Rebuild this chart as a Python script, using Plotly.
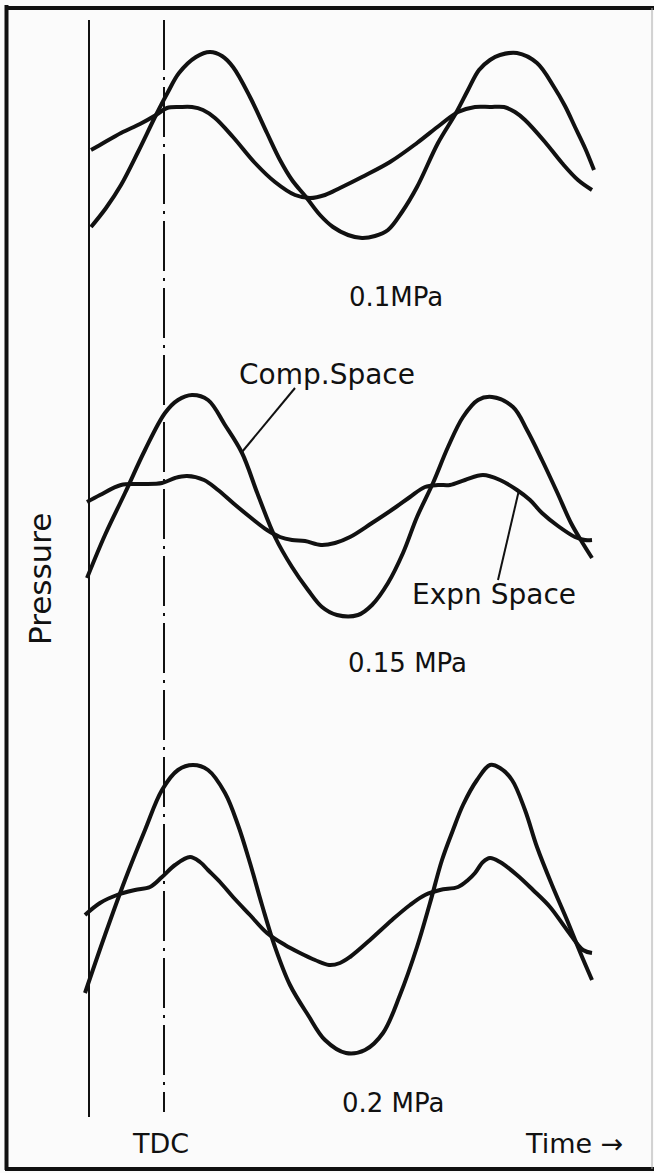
import plotly.graph_objects as go

# ---- data (time units / pressure units, y grows downward) ----
# Panel 0.1 MPa
t_comp_01 = [91, 106, 121, 138, 156, 168, 179, 196, 210, 222, 233, 250, 267, 280, 292, 306, 320, 333, 348, 362, 375, 388, 402, 417, 438, 456, 468, 479, 490, 500, 517, 537, 554, 565, 575, 585, 594]
p_comp_01 = [227, 208, 185, 152, 115, 92, 73, 57, 52, 56, 67, 97, 133, 160, 180, 197, 215, 227, 235, 238, 236, 230, 212, 187, 143, 113, 90, 70, 60, 55, 53, 63, 87, 106, 127, 148, 170]
t_expn_01 = [91, 100, 121, 140, 156, 167, 180, 192, 203, 215, 233, 255, 275, 295, 310, 325, 340, 362, 390, 417, 440, 458, 475, 490, 504, 515, 525, 545, 562, 578, 592]
p_expn_01 = [150, 145, 133, 124, 115, 108, 107, 107, 110, 118, 137, 163, 182, 195, 198, 195, 188, 177, 162, 143, 125, 112, 107, 107, 107, 112, 120, 142, 163, 180, 190]

# Panel 0.15 MPa
t_comp_015 = [87, 105, 125, 145, 165, 178, 192, 208, 225, 242, 258, 275, 292, 308, 322, 337, 358, 372, 388, 403, 417, 433, 448, 463, 478, 492, 513, 527, 542, 557, 571, 582, 592]
p_comp_015 = [578, 535, 493, 450, 413, 400, 395, 400, 425, 453, 495, 537, 567, 590, 607, 615, 615, 605, 583, 553, 517, 483, 447, 417, 400, 397, 407, 430, 460, 492, 523, 542, 558]
t_expn_015 = [87, 100, 121, 140, 162, 175, 187, 204, 218, 233, 250, 267, 280, 292, 305, 321, 335, 350, 372, 396, 410, 425, 438, 450, 465, 483, 500, 517, 530, 542, 558, 575, 585, 592]
p_expn_015 = [502, 495, 485, 484, 483, 478, 476, 480, 490, 503, 517, 530, 537, 540, 541, 545, 543, 537, 523, 507, 497, 487, 485, 485, 480, 475, 480, 490, 500, 513, 526, 537, 540, 540]

# Panel 0.2 MPa
t_comp_02 = [85, 105, 125, 145, 162, 178, 193, 208, 225, 238, 250, 262, 275, 290, 308, 325, 346, 365, 383, 400, 417, 430, 442, 453, 463, 477, 490, 500, 512, 525, 537, 552, 567, 580, 592]
p_comp_02 = [993, 935, 880, 830, 790, 770, 765, 770, 793, 825, 863, 905, 947, 985, 1015, 1040, 1053, 1050, 1033, 995, 947, 903, 860, 830, 805, 780, 765, 768, 780, 810, 847, 885, 920, 952, 980]
t_expn_02 = [85, 100, 117, 135, 150, 162, 175, 190, 200, 208, 220, 233, 250, 267, 285, 300, 315, 329, 340, 350, 370, 392, 410, 425, 440, 458, 468, 475, 483, 490, 500, 517, 533, 550, 567, 583, 592]
p_expn_02 = [915, 903, 895, 890, 887, 877, 865, 857, 862, 870, 882, 897, 915, 933, 945, 953, 960, 965, 963, 957, 940, 920, 905, 895, 890, 887, 880, 873, 862, 858, 862, 875, 890, 907, 930, 950, 953]

# reference lines
t_start = 89
t_tdc = 164
line_span = [20, 1117]
tdc_span = [20, 1112]

# labels
pressure_labels = ["0.1MPa", "0.15 MPa", "0.2 MPa"]
pressure_label_pos = [(396, 297), (407, 663), (393, 1103)]

W, H = 654, 1173
FONT = "DejaVu Sans"
INK = "#111111"

fig = go.Figure()

curves = [
    (t_comp_01, p_comp_01), (t_expn_01, p_expn_01),
    (t_comp_015, p_comp_015), (t_expn_015, p_expn_015),
    (t_comp_02, p_comp_02), (t_expn_02, p_expn_02),
]
for tx, py in curves:
    fig.add_trace(go.Scatter(x=tx, y=py, mode="lines",
                             line=dict(color=INK, width=4, shape="spline", smoothing=1.0),
                             hoverinfo="skip", showlegend=False))

# start line and TDC line
fig.add_trace(go.Scatter(x=[t_start, t_start], y=line_span, mode="lines",
                         line=dict(color=INK, width=2), showlegend=False, hoverinfo="skip"))
fig.add_trace(go.Scatter(x=[t_tdc, t_tdc], y=tdc_span, mode="lines",
                         line=dict(color=INK, width=2, dash="50px,7px,3px,7px"),
                         showlegend=False, hoverinfo="skip"))

# leader lines
fig.add_trace(go.Scatter(x=[295, 242], y=[388, 452], mode="lines",
                         line=dict(color=INK, width=2), showlegend=False, hoverinfo="skip"))
fig.add_trace(go.Scatter(x=[519, 498], y=[490, 580], mode="lines",
                         line=dict(color=INK, width=2), showlegend=False, hoverinfo="skip"))

ann = []
for txt, (ax, ay) in zip(pressure_labels, pressure_label_pos):
    ann.append(dict(x=ax, y=ay, text=txt, font=dict(size=26, family=FONT, color=INK)))
ann.append(dict(x=327, y=374, text="Comp.Space", font=dict(size=28, family=FONT, color=INK)))
ann.append(dict(x=494, y=594, text="Expn Space", font=dict(size=28, family=FONT, color=INK)))
ann.append(dict(x=160, y=1143, text="TDC", font=dict(size=27, family=FONT, color=INK)))
ann.append(dict(x=574, y=1143, text="Time \u2192", font=dict(size=27, family=FONT, color=INK)))
ann.append(dict(x=40, y=579, text="Pressure", textangle=-90, font=dict(size=31, family=FONT, color=INK)))
for a in ann:
    a.update(xref="x", yref="y", showarrow=False, xanchor="center", yanchor="middle")

shapes = [
    dict(type="line", xref="paper", yref="paper", x0=6.5 / W, x1=6.5 / W, y0=1 - 1170 / H, y1=1 - 5 / H, line=dict(color=INK, width=4)),
    dict(type="line", xref="paper", yref="paper", x0=5 / W, x1=1, y0=1 - 8 / H, y1=1 - 8 / H, line=dict(color=INK, width=4)),
    dict(type="line", xref="paper", yref="paper", x0=5 / W, x1=1, y0=1 - 1169 / H, y1=1 - 1169 / H, line=dict(color=INK, width=4)),
    dict(type="line", xref="paper", yref="paper", x0=652 / W, x1=652 / W, y0=1 - 1169 / H, y1=1 - 8 / H, line=dict(color="#aaaaaa", width=1)),
]

fig.update_layout(
    width=W, height=H,
    margin=dict(l=0, r=0, t=0, b=0),
    paper_bgcolor="#fbfbfb", plot_bgcolor="#fbfbfb",
    xaxis=dict(range=[0, W], visible=False, fixedrange=True),
    yaxis=dict(range=[H, 0], visible=False, fixedrange=True),
    annotations=ann, shapes=shapes,
)

fig.write_html("out.html", config={"displayModeBar": False},
               post_script="document.body.style.margin='0';document.body.style.overflow='hidden';")
